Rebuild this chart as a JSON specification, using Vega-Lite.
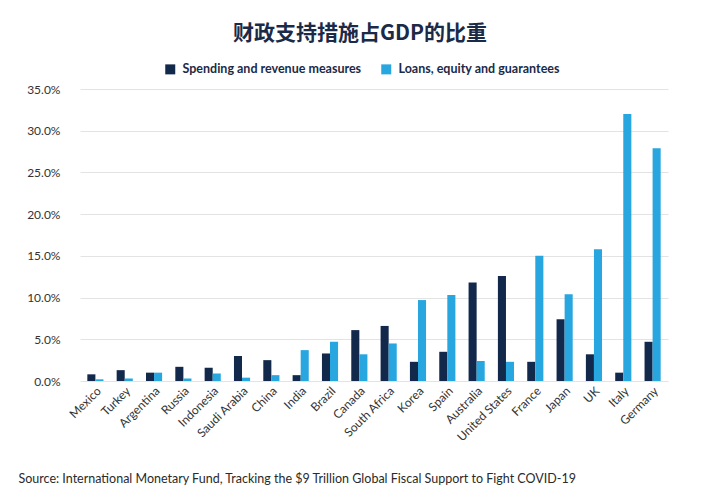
{
  "$schema": "https://vega.github.io/schema/vega-lite/v6.json",
  "width": 588,
  "height": 292,
  "autosize": {"type": "none"},
  "padding": {"left": 80, "top": 89, "right": 52, "bottom": 119},
  "background": "white",
  "title": {
    "text": "财政支持措施占GDP的比重",
    "font": "Noto Sans CJK SC",
    "fontSize": 21,
    "fontWeight": "bold",
    "color": "#1b2a47",
    "anchor": "middle",
    "frame": "group",
    "dx": -14,
    "offset": 19
  },
  "data": {
    "values": [
      {"country": "Mexico", "series": "Spending and revenue measures", "value": 0.8},
      {"country": "Mexico", "series": "Loans, equity and guarantees", "value": 0.2},
      {"country": "Turkey", "series": "Spending and revenue measures", "value": 1.3},
      {"country": "Turkey", "series": "Loans, equity and guarantees", "value": 0.3},
      {"country": "Argentina", "series": "Spending and revenue measures", "value": 1.0},
      {"country": "Argentina", "series": "Loans, equity and guarantees", "value": 1.0},
      {"country": "Russia", "series": "Spending and revenue measures", "value": 1.7},
      {"country": "Russia", "series": "Loans, equity and guarantees", "value": 0.3},
      {"country": "Indonesia", "series": "Spending and revenue measures", "value": 1.6},
      {"country": "Indonesia", "series": "Loans, equity and guarantees", "value": 0.9},
      {"country": "Saudi Arabia", "series": "Spending and revenue measures", "value": 3.0},
      {"country": "Saudi Arabia", "series": "Loans, equity and guarantees", "value": 0.4},
      {"country": "China", "series": "Spending and revenue measures", "value": 2.5},
      {"country": "China", "series": "Loans, equity and guarantees", "value": 0.7},
      {"country": "India", "series": "Spending and revenue measures", "value": 0.7},
      {"country": "India", "series": "Loans, equity and guarantees", "value": 3.7},
      {"country": "Brazil", "series": "Spending and revenue measures", "value": 3.3},
      {"country": "Brazil", "series": "Loans, equity and guarantees", "value": 4.7},
      {"country": "Canada", "series": "Spending and revenue measures", "value": 6.1},
      {"country": "Canada", "series": "Loans, equity and guarantees", "value": 3.2},
      {"country": "South Africa", "series": "Spending and revenue measures", "value": 6.6},
      {"country": "South Africa", "series": "Loans, equity and guarantees", "value": 4.5},
      {"country": "Korea", "series": "Spending and revenue measures", "value": 2.3},
      {"country": "Korea", "series": "Loans, equity and guarantees", "value": 9.7},
      {"country": "Spain", "series": "Spending and revenue measures", "value": 3.5},
      {"country": "Spain", "series": "Loans, equity and guarantees", "value": 10.3},
      {"country": "Australia", "series": "Spending and revenue measures", "value": 11.8},
      {"country": "Australia", "series": "Loans, equity and guarantees", "value": 2.4},
      {"country": "United States", "series": "Spending and revenue measures", "value": 12.6},
      {"country": "United States", "series": "Loans, equity and guarantees", "value": 2.3},
      {"country": "France", "series": "Spending and revenue measures", "value": 2.3},
      {"country": "France", "series": "Loans, equity and guarantees", "value": 15.0},
      {"country": "Japan", "series": "Spending and revenue measures", "value": 7.4},
      {"country": "Japan", "series": "Loans, equity and guarantees", "value": 10.4},
      {"country": "UK", "series": "Spending and revenue measures", "value": 3.2},
      {"country": "UK", "series": "Loans, equity and guarantees", "value": 15.8},
      {"country": "Italy", "series": "Spending and revenue measures", "value": 1.0},
      {"country": "Italy", "series": "Loans, equity and guarantees", "value": 32.0},
      {"country": "Germany", "series": "Spending and revenue measures", "value": 4.7},
      {"country": "Germany", "series": "Loans, equity and guarantees", "value": 27.9}
    ]
  },
  "mark": {"type": "bar"},
  "encoding": {
    "x": {
      "field": "country",
      "type": "nominal",
      "sort": null,
      "scale": {"paddingInner": 0.45, "paddingOuter": 0.25},
      "axis": {
        "title": "Source: International Monetary Fund, Tracking the $9 Trillion Global Fiscal Support to Fight COVID-19",
        "titleX": -62,
        "titleY": 97,
        "titleAlign": "left",
        "titleAnchor": "start",
        "titleBaseline": "middle",
        "titleFont": "Lato",
        "titleFontSize": 12.5,
        "titleFontWeight": "normal",
        "titleColor": "#2a2a2a",
        "titleLimit": 700,
        "labelAngle": -45,
        "labelFont": "Lato",
        "labelFontSize": 12,
        "labelColor": "#333333",
        "labelPadding": 4,
        "ticks": false,
        "domain": false
      }
    },
    "xOffset": {
      "field": "series",
      "type": "nominal",
      "sort": ["Spending and revenue measures", "Loans, equity and guarantees"],
      "scale": {"paddingInner": 0, "paddingOuter": 0}
    },
    "y": {
      "field": "value",
      "type": "quantitative",
      "scale": {"domain": [0, 35], "nice": false},
      "axis": {
        "title": null,
        "values": [0, 5, 10, 15, 20, 25, 30, 35],
        "labelExpr": "format(datum.value, '.1f') + '%'",
        "labelFont": "Lato",
        "labelFontSize": 12,
        "labelColor": "#333333",
        "labelPadding": 20,
        "ticks": false,
        "domain": false,
        "grid": true,
        "gridColor": "#e3e3e3",
        "gridWidth": 1
      }
    },
    "color": {
      "field": "series",
      "type": "nominal",
      "sort": ["Spending and revenue measures", "Loans, equity and guarantees"],
      "scale": {"range": ["#13294b", "#27a6df"]},
      "legend": {
        "title": null,
        "orient": "none",
        "direction": "horizontal",
        "legendX": 84,
        "legendY": -26,
        "symbolType": "square",
        "symbolSize": 100,
        "symbolStrokeWidth": 0,
        "labelFont": "Lato",
        "labelFontSize": 12.5,
        "labelFontWeight": "bold",
        "labelColor": "#1b2a47",
        "labelLimit": 400,
        "columnPadding": 18,
        "labelOffset": 6
      }
    }
  },
  "config": {
    "view": {"stroke": null}
  }
}
